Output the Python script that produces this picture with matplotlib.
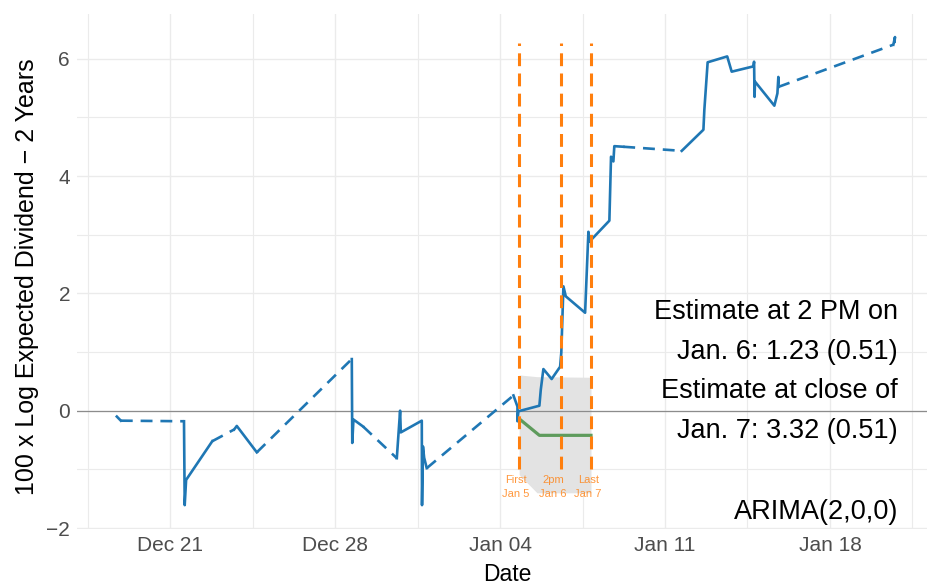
import numpy as np
import pandas as pd
import matplotlib
matplotlib.use("Agg")
import matplotlib.pyplot as plt
import matplotlib.dates as mdates
from matplotlib.ticker import FixedLocator

plt.rcParams["font.family"] = ["Liberation Sans", "DejaVu Sans"]

# time is in days after 2020-12-21 00:00
T0 = pd.Timestamp("2020-12-21")

# trading sessions (solid); consecutive sessions are joined by dashed lines
seg_days = [
    [-2.26, -2.09],
    [0.59, 0.62, 0.68, 1.79],
    [2.72, 2.83, 3.68],
    [7.71, 7.73, 7.78, 8.19],
    [9.62, 9.76, 9.79, 10.68, 10.69, 10.73, 10.78, 10.89],
    [14.57, 14.74, 14.74, 14.78, 15.67, 15.73, 15.84, 16.19, 16.55, 16.60,
     16.69, 16.79, 17.61, 17.75, 17.79, 18.64, 18.71, 18.81, 18.85, 19.23],
    [21.71, 22.63, 22.67, 22.81, 23.64, 23.83, 24.75, 24.78, 24.80, 24.82,
     25.64, 25.77, 25.81, 25.81],
    [30.69, 30.76, 30.74],
]
seg_vals = [
    [-0.10, -0.17],
    [-0.18, -1.61, -1.18, -0.52],
    [-0.32, -0.26, -0.71],
    [0.88, -0.55, -0.15, -0.27],
    [-0.81, 0.00, -0.37, -0.17, -1.61, -0.61, -0.80, -0.98],
    [0.26, 0.07, -0.18, -0.01, 0.085, 0.36, 0.71, 0.54, 0.75, 0.99,
     2.12, 1.95, 1.67, 3.05, 2.88, 3.24, 4.33, 4.25, 4.51, 4.50],
    [4.43, 4.79, 5.13, 5.94, 6.04, 5.78, 5.87, 5.95, 5.35, 5.61,
     5.20, 5.41, 5.69, 5.52],
    [6.24, 6.37, 6.29],
]

# ARIMA forecast from the first Jan 5 observation
fc_days = [14.85, 15.67, 17.86]
fc_mean = [-0.15, -0.42, -0.42]
band_days = [14.81, 15.57, 17.86]
band_lo = [-1.09, -1.40, -1.40]
band_hi = [0.61, 0.58, 0.57]

# event markers
event_days = [14.81, 16.59, 17.86]
event_labels = ["First\nJan 5", "2pm\nJan 6", "Last\nJan 7"]
event_label_days = [14.68, 16.25, 17.74]

notes = ["Estimate at 2 PM on", "Jan. 6: 1.23 (0.51)",
         "Estimate at close of", "Jan. 7: 3.32 (0.51)", "ARIMA(2,0,0)"]
note_y = [1.69, 1.00, 0.34, -0.34, -1.72]

BLUE = "#1F77B4"
ORANGE = "#FF7F0E"
GREEN = "#5E9B5C"


def to_time(d):
    return T0 + pd.to_timedelta(np.asarray(d, dtype=float), unit="D")


fig = plt.figure(figsize=(9.28, 5.87), dpi=100)
ax = fig.add_axes([77 / 928, 1 - 528.6 / 587, 851 / 928, (528.6 - 13.6) / 587])

# grey forecast band
ax.fill_between(to_time(band_days), band_lo, band_hi, color="#E3E3E3", lw=0, zorder=1)

# dashed joins across closed-market gaps
for i in range(len(seg_days) - 1):
    ax.plot(to_time([seg_days[i][-1], seg_days[i + 1][0]]),
            [seg_vals[i][-1], seg_vals[i + 1][0]],
            color=BLUE, lw=1.9, ls=(0, (4.5, 3)), solid_capstyle="butt", zorder=3)
for d, v in zip(seg_days, seg_vals):
    ax.plot(to_time(d), v, color=BLUE, lw=1.9, zorder=3)

ax.plot(to_time(fc_days), fc_mean, color=GREEN, lw=2.3, zorder=4)

for d, lab, ld in zip(event_days, event_labels, event_label_days):
    ax.plot(to_time([d, d]), [-1.0, 6.27], color=ORANGE, lw=2.2,
            ls=(0, (4.2, 2.4)), zorder=5)
    ax.text(to_time([ld])[0], -1.30, lab, color=ORANGE, alpha=0.8, fontsize=8,
            ha="center", va="center", linespacing=1.45, zorder=6)

ax.axhline(0, color="#8C8C8C", lw=0.9, zorder=2)

for txt, y in zip(notes, note_y):
    ax.text(to_time([30.89])[0], y, txt, fontsize=19.5, ha="right", va="center", zorder=7)

ax.set_xlim(to_time([-3.95])[0], to_time([32.16])[0])
ax.set_ylim(-2.01, 6.77)
ax.set_yticks([-2, 0, 2, 4, 6])
ax.set_yticklabels(["\u22122", "0", "2", "4", "6"])
ax.yaxis.set_minor_locator(FixedLocator([-1, 1, 3, 5]))

ax.xaxis.set_major_locator(mdates.WeekdayLocator(byweekday=mdates.MO))
ax.xaxis.set_major_formatter(mdates.DateFormatter("%b %d"))
minor = mdates.date2num(to_time([-3.5, 3.5, 10.5, 17.5, 24.5, 31.5]))
ax.xaxis.set_minor_locator(FixedLocator(minor))

ax.grid(True, which="major", color="#EBEBEB", lw=1.0, zorder=0)
ax.grid(True, which="minor", color="#EBEBEB", lw=0.8, zorder=0)
ax.set_axisbelow(True)
for s in ax.spines.values():
    s.set_visible(False)
ax.tick_params(which="both", length=0, labelsize=15, labelcolor="#4D4D4D", pad=5)

ax.set_xlabel("Date", fontsize=16.5, va="center")
ax.xaxis.set_label_coords(0.506, -0.09)
ax.set_ylabel("100 x Log Expected Dividend \u2212 2 Years", fontsize=18, va="center")
ax.yaxis.set_label_coords(-0.059, 0.49)

fig.savefig("out.png", dpi=100)
